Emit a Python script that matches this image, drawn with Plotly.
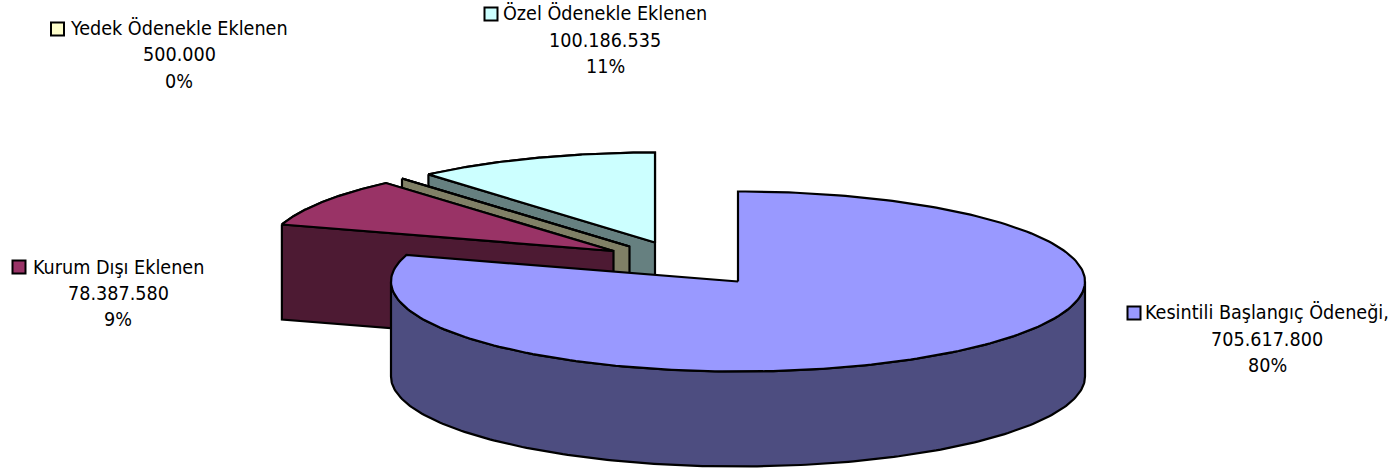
import numpy as np
import plotly.graph_objects as go

# --- data ---
names = ["Kesintili Başlangıç Ödeneği,", "Kurum Dışı Eklenen", "Yedek Ödenekle Eklenen", "Özel Ödenekle Eklenen"]
values = [705617800, 78387580, 500000, 100186535]
value_labels = ["705.617.800", "78.387.580", "500.000", "100.186.535"]
percent_labels = ["80%", "9%", "0%", "11%"]
top_colors = ["#9999FF", "#993366", "#FFFFCC", "#CCFFFF"]
wall_colors = ["#4D4D80", "#4D1A33", "#808066", "#668080"]

# --- layout of the exploded pie on a pixel-like scale ---
W, H = 1395, 471
RX, RY, DEPTH = 347, 90, 95
apex_x = [738, 613.5, 629.5, 655]
apex_y = [281.5, 251, 246.5, 242.5]
label_x = [1267, 118, 179, 605]
label_y = [[312.5, 339, 365.5], [267.5, 293.5, 319.5], [28.5, 54.5, 81.5], [13.5, 40.5, 66.5]]
key_x = [1134, 19, 57.5, 491]
key_y = [313, 267, 29, 14]
FONT = "DejaVu Sans Condensed, DejaVu Sans"
FS = 19.6

total = sum(values)
fracs = [v / total for v in values]
starts = np.cumsum([0] + fracs[:-1]) * 360
ends = np.cumsum(fracs) * 360


def rim(i, a0, a1, n=120):
    a = np.radians(np.linspace(a0, a1, n))
    return apex_x[i] + RX * np.sin(a), apex_y[i] - RY * np.cos(a)


fig = go.Figure()


def poly(xs, ys, color):
    fig.add_trace(go.Scatter(
        x=list(xs), y=list(ys), mode="lines", fill="toself", fillcolor=color,
        line=dict(color="black", width=2.2), hoverinfo="skip", showlegend=False))


def radial_wall(i):
    x0, y0 = rim(i, starts[i], starts[i], 1)
    poly([x0[0], apex_x[i], apex_x[i], x0[0], x0[0]],
         [y0[0], apex_y[i], apex_y[i] + DEPTH, y0[0] + DEPTH, y0[0]], wall_colors[i])


def top_face(i):
    x, y = rim(i, starts[i], ends[i], 240)
    poly(np.r_[apex_x[i], x, apex_x[i]], np.r_[apex_y[i], y, apex_y[i]], top_colors[i])


# back to front
for i in [3, 2, 1]:
    top_face(i)
    radial_wall(i)
    top_face(i)

# main slice: outer wall, then top
wx, wy = rim(0, 90, 270, 200)
poly(np.r_[wx, wx[::-1], wx[0]], np.r_[wy, wy[::-1] + DEPTH, wy[0]], wall_colors[0])
top_face(0)

# legend keys
for i in range(4):
    fig.add_trace(go.Scatter(
        x=[key_x[i]], y=[key_y[i]], mode="markers",
        marker=dict(symbol="square", size=13, color=top_colors[i], line=dict(color="black", width=2)),
        hoverinfo="skip", showlegend=False))

# labels
for i in range(4):
    for text, yy in zip([names[i], value_labels[i], percent_labels[i]], label_y[i]):
        fig.add_annotation(x=label_x[i], y=yy, text=text, showarrow=False, xanchor="center", yanchor="middle",
                           font=dict(family=FONT, size=FS, color="black"))

fig.update_layout(
    width=W, height=H, margin=dict(l=0, r=0, t=0, b=0),
    paper_bgcolor="white", plot_bgcolor="white", showlegend=False,
    xaxis=dict(range=[0, W], visible=False, fixedrange=True),
    yaxis=dict(range=[H, 0], visible=False, fixedrange=True),
)
fig.write_html("out.html", config={"displayModeBar": False},
               post_script="document.body.style.margin='0';document.body.style.overflow='hidden';")
